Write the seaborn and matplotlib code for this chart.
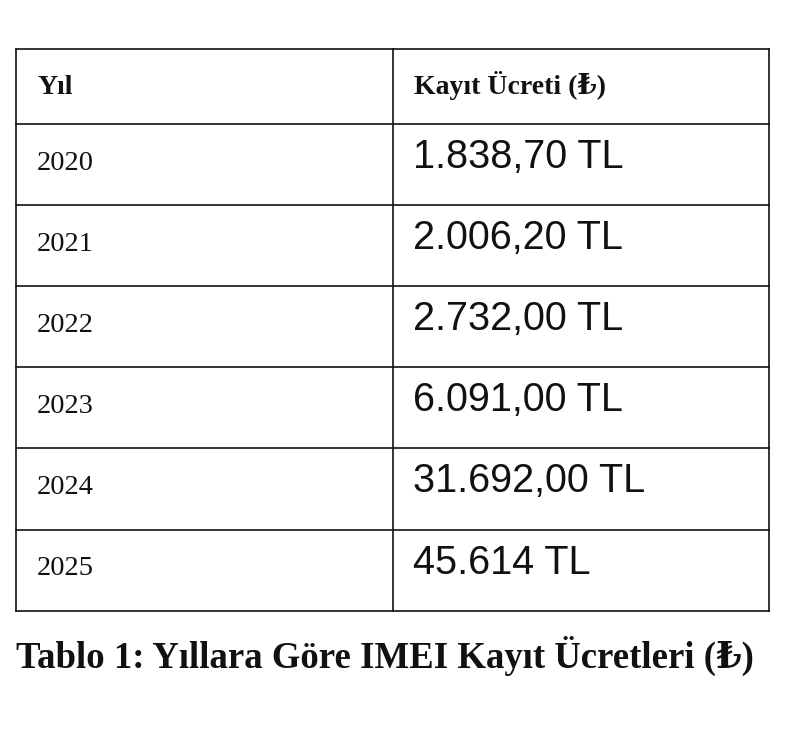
import matplotlib.pyplot as plt
import seaborn as sb

# table contents
headers = ['Yıl', 'Kayıt Ücreti (₺)']
years = ['2020', '2021', '2022', '2023', '2024', '2025']
fees = ['1.838,70 TL', '2.006,20 TL', '2.732,00 TL', '6.091,00 TL', '31.692,00 TL', '45.614 TL']
caption = 'Tablo 1: Yıllara Göre IMEI Kayıt Ücretleri (₺)'

sb.set_theme(style='white')
serif = ['Liberation Serif', 'DejaVu Serif']
sans = ['Liberation Sans', 'DejaVu Sans']
ink = '#111111'

W, H = 800, 732
fig = plt.figure(figsize=(W / 100, H / 100), dpi=100)
fig.patch.set_facecolor('white')

# one axes in pixel units, y going down
ax = fig.add_axes([0, 0, 1, 1])
ax.set_xlim(0, W)
ax.set_ylim(H, 0)
ax.axis('off')

# layout of the table box
left, mid, right = 16, 393, 769
top, header_h, row_h = 49, 75, 81.1
pad = 21

row_tops = [top, top + header_h] + [top + header_h + row_h * (i + 1) for i in range(len(years))]
bottom = row_tops[-1]

for y in row_tops:
    ax.plot([left, right], [y, y], color=ink, lw=1.2, solid_capstyle='projecting')
for x in (left, mid, right):
    ax.plot([x, x], [top, bottom], color=ink, lw=1.2, solid_capstyle='projecting')

# header
for x0, h in zip((left, mid), headers):
    ax.text(x0 + pad, top + 45, h, fontsize=20, fontweight='bold', family=serif,
            ha='left', va='baseline', color=ink)

# body
for i, (yr, fee) in enumerate(zip(years, fees)):
    y0 = row_tops[i + 1]
    ax.text(left + pad, y0 + 45.5, yr, fontsize=20.5, family=serif,
            ha='left', va='baseline', color=ink)
    ax.text(mid + 20, y0 + 44, fee, fontsize=28.5, family=sans,
            ha='left', va='baseline', color=ink)

ax.text(16, 668, caption, fontsize=26.5, fontweight='bold', family=serif,
        ha='left', va='baseline', color=ink)

fig.savefig('out.png', dpi=100, facecolor='white')
